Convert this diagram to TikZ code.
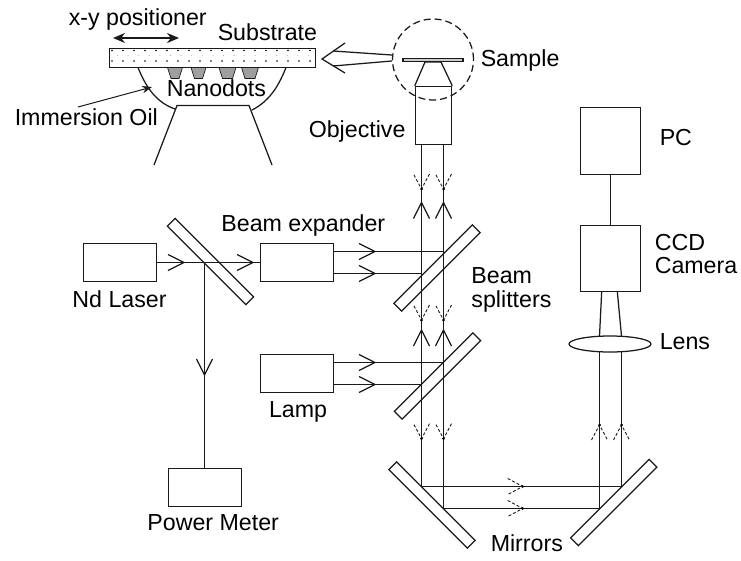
\documentclass[tikz,border=0pt]{standalone}
\usepackage{fontspec}
\setmainfont{Liberation Sans}
\usetikzlibrary{arrows.meta,shapes.geometric}
\definecolor{trazo}{HTML}{1A1A1A}
\begin{document}
\begin{tikzpicture}[x=1pt, y=-1pt, line width=1.5pt, draw=trazo, >={Stealth[length=3.5mm]},
      lbl/.style={anchor=base west, inner sep=0pt, font=\fontsize{23.2}{26}\selectfont},
      caja/.style={draw, rectangle, inner sep=0pt, minimum width=73pt, minimum height=38pt},
      espejo/.style={draw, rectangle, line width=1.25pt, inner sep=0pt, minimum width=111pt, minimum height=11pt},
      barb/.pic={\draw[line width=1.2pt] (-16,-8) -- (0,0) -- (-16,8);},
      dbarb/.pic={\draw[dash pattern=on 3pt off 2pt, line width=0.9pt] (-15,-8) -- (0,0) -- (-15,8); \fill (0,0) circle (1.5);}]
    \useasboundingbox (0,0) rectangle (741,560);
    % inset
    \node[draw, rectangle, inner sep=0pt, minimum width=206pt, minimum height=19pt] (substrate) at (212.5,58) {};
    \foreach \x in {0,...,18} {
      \fill ({112+\x*11},50.5) circle (0.8);
      \fill ({112+\x*11},61) circle (0.8);
      \fill[gray] ({117.5+\x*10.6},55.5) circle (0.4);
    }
    \foreach \x/\w in {175/7.5,198.5/7.5,227.5/8.5,250/8.5} {
      \draw[fill=gray!75, line width=0.7pt] (\x-\w,67.5) -- (\x+\w,67.5) -- (\x+\w-3.5,78.5) -- (\x-\w+3.5,78.5) -- cycle;
    }
    \draw[line width=1.25pt] (138,67.5) .. controls (147,90) and (158,103) .. (175,109);
    \draw[line width=1.25pt] (286,67.5) .. controls (278,88) and (268,102) .. (252,110);
    \draw[line width=1.25pt] (154,165) -- (177,105.5) -- (249,105.5) -- (272,165);
    \coordinate (oilend) at (78,107);
    \coordinate (oiltip) at (152,87);
    \draw[->, line width=1pt] (oilend) -- (oiltip);
    \coordinate (posl) at (113,38);
    \coordinate (posr) at (179,38);
    \draw[{Stealth[length=12pt,width=10pt]}-{Stealth[length=12pt,width=10pt]}, line width=2pt] (posl) -- (posr);
    % big arrow
    \node[draw, circle, line width=1.25pt, dash pattern=on 7pt off 4pt, inner sep=0pt, minimum size=81pt] (zoomc) at (433,59.5) {};
    \draw[line width=1.25pt] (345,43) -- (322,59) -- (345,73);
    \draw[line width=1.25pt] (333,51) -- (zoomc.west |- 0,55);
    \draw[line width=1.25pt] (333,66) -- (zoomc.west |- 0,61);
    % objective
    \node[draw, rectangle, inner sep=0pt, line width=1.25pt, fill=gray!40, minimum width=60pt, minimum height=3.5pt] (sample) at (433,60) {};
    \node[draw, rectangle, inner sep=0pt, minimum width=36pt, minimum height=58pt] (objective) at (433.5,115.5) {};
    \draw[line width=1.25pt] (objective.north west) -- (425,62) -- (441,62) -- (objective.north east);
    % boxes
    \node[caja] (laser) at (120,262.5) {};
    \node[caja] (expander) at (297,262.5) {};
    \node[caja] (lamp) at (297,373.5) {};
    \node[caja] (meter) at (205,487.5) {};
    \node[caja, minimum width=60pt, minimum height=67pt] (pc) at (610.5,141) {};
    \node[caja, minimum width=60pt, minimum height=66pt] (ccd) at (610.5,258.5) {};
    \node[draw, ellipse, line width=1.25pt, inner sep=0pt, minimum width=82pt, minimum height=16pt] (lens) at (610,344) {};
    % mirrors
    \node[espejo, rotate=-45] (split) at (210.5,261.5) {};
    \node[espejo, rotate=45] (bs1) at (437,268) {};
    \node[espejo, rotate=45] (bs2) at (437.5,376) {};
    \node[espejo, rotate=-45] (ml) at (432,505) {};
    \node[espejo, rotate=45] (mr) at (613.8,502.5) {};
    % beams
    \coordinate (hit) at (204.5,262.5);
    \draw (laser.east) -- (expander.west);
    \draw (hit) -- (meter.north -| hit);
    \foreach \x in {421.5,443.5} {
      \draw (\x,144) -- (\x,{\x<430 ? 486.5 : 508.5});
    }
    \draw (421.5,486.5) -- (621.5,486.5) -- (621.5,352);
    \draw (443.5,508.5) -- (599.5,508.5) -- (599.5,352);
    \draw ([yshift=11pt]expander.east) -- (443.5,251.5);
    \draw ([yshift=-11pt]expander.east) -- (421.5,273.5);
    \draw ([yshift=11pt]lamp.east) -- (443.5,362.5);
    \draw ([yshift=-11pt]lamp.east) -- (421.5,384.5);
    \draw[line width=1.25pt] (599.5,336) -- (601.7,291.5);
    \draw[line width=1.25pt] (621.5,336) -- (617.3,291.5);
    \draw (pc) -- (ccd);
    % arrow heads
    \foreach \x/\y in {184/262.5,253/262.5,375/251.5,375/273.5,375/362.5,375/384.5} {
      \pic at (\x,\y) {barb};
    }
    \pic[rotate=-90] at (204.5,375) {barb};
    \foreach \x in {421.5,443.5} {
      \pic[rotate=90] at (\x,202.5) {barb};
      \pic[rotate=90] at (\x,330) {barb};
      \pic[rotate=-90] at (\x,189) {dbarb};
      \pic[rotate=-90] at (\x,320) {dbarb};
      \pic[rotate=-90] at (\x,438.7) {dbarb};
    }
    \pic[rotate=90] at (599.5,425) {dbarb};
    \pic[rotate=90] at (621.5,425) {dbarb};
    \pic at (522.7,486.5) {dbarb};
    \pic at (522.7,508.5) {dbarb};
    % labels
    \node[lbl] (lpos) at (68,25) {x-y positioner};
    \node[lbl] (lsub) at (217,40.7) {Substrate};
    \node[lbl] (lnano) at (166,96.7) {Nanodots};
    \node[lbl] (loil) at (14,125) {Immersion Oil};
    \node[lbl] (lobj) at (308,137) {Objective};
    \node[lbl] (lsam) at (480,66.7) {Sample};
    \node[lbl] (lexp) at (220.7,231.7) {Beam expander};
    \node[lbl] (lbs1) at (470.7,283) {Beam};
    \node[lbl] (lbs2) at (470.7,307.7) {splitters};
    \node[lbl] (llas) at (71.7,307.3) {Nd Laser};
    \node[lbl] (llam) at (268.3,417) {Lamp};
    \node[lbl] (lmet) at (146.7,530.7) {Power Meter};
    \node[lbl] (lmir) at (490,551.7) {Mirrors};
    \node[lbl] (lpc) at (659,145) {PC};
    \node[lbl] (lccd) at (654,250) {CCD};
    \node[lbl] (lcam) at (654,273) {Camera};
    \node[lbl] (llen) at (659,349) {Lens};
  \end{tikzpicture}
\end{document}
